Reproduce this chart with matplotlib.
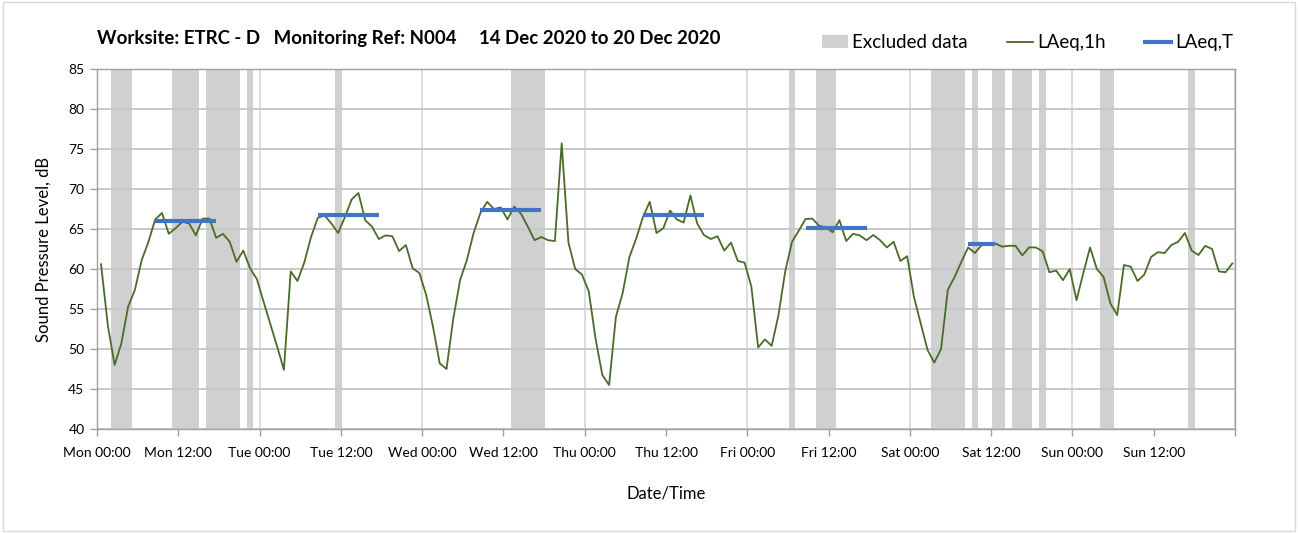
import numpy as np
import matplotlib
matplotlib.use("Agg")
from matplotlib import pyplot as plt
from matplotlib.patches import Patch, Rectangle
from matplotlib.lines import Line2D

plt.rcParams["font.family"] = ["Lato", "DejaVu Sans"]

# hourly LAeq,1h values, Mon 00:00 onwards (one per hour)
laeq_1h = [
    60.6, 53.0, 48.0, 50.7, 55.3, 57.4, 61.1, 63.4, 66.2, 67.0,
    64.4, 65.1, 65.9, 65.7, 64.2, 66.3, 66.3, 63.9, 64.4, 63.4,
    60.9, 62.3, 60.1, 58.75, 55.9, 53.1, 50.3, 47.4, 59.7, 58.5,
    60.8, 64.0, 66.4, 66.7, 65.7, 64.5, 66.5, 68.7, 69.5, 66.1,
    65.3, 63.75, 64.2, 64.1, 62.25, 63.0, 60.1, 59.5, 56.75, 52.8,
    48.2, 47.5, 53.8, 58.6, 61.1, 64.5, 67.0, 68.4, 67.5, 67.7,
    66.2, 67.8, 66.9, 65.3, 63.6, 64.0, 63.6, 63.5, 75.7, 63.3,
    60.0, 59.3, 57.2, 51.3, 46.75, 45.5, 54.0, 57.0, 61.5, 63.8,
    66.5, 68.4, 64.5, 65.1, 67.3, 66.2, 65.8, 69.2, 65.7, 64.25,
    63.75, 64.1, 62.3, 63.3, 61.0, 60.8, 57.8, 50.2, 51.2, 50.4,
    54.25, 59.7, 63.4, 64.8, 66.25, 66.3, 65.4, 65.2, 64.6, 66.1,
    63.5, 64.4, 64.2, 63.6, 64.25, 63.6, 62.7, 63.4, 61.0, 61.6,
    56.5, 53.2, 49.9, 48.3, 50.0, 57.4, 59.0, 60.9, 62.7, 62.0,
    63.0, 63.2, 63.2, 62.8, 62.9, 62.9, 61.7, 62.7, 62.7, 62.2,
    59.6, 59.8, 58.6, 60.0, 56.1, 59.5, 62.7, 60.0, 59.0, 55.7,
    54.25, 60.5, 60.3, 58.5, 59.3, 61.5, 62.1, 62.0, 63.0, 63.4,
    64.5, 62.3, 61.75, 62.9, 62.5, 59.7, 59.6, 60.7,
]

# daytime LAeq,T periods: first hour, last hour, level
laeq_t_start = [8, 32, 56, 80, 104, 128]
laeq_t_end = [17, 41, 65, 89, 113, 132]
laeq_t_level = [66.0, 66.8, 67.4, 66.7, 65.1, 63.1]

# excluded data periods (hour from, hour to)
excl_from = [2, 11, 16, 22, 35, 61, 102, 106, 123, 129, 132, 135, 139, 148, 161]
excl_to = [5, 15, 21, 23, 36, 66, 103, 109, 128, 130, 134, 138, 140, 150, 162]

days = ["Mon", "Tue", "Wed", "Thu", "Fri", "Sat", "Sun"]
offset = 0.1  # logger start offset, hours

fig = plt.figure(figsize=(12.98, 5.33), dpi=100)
ax = fig.add_axes([0.0747, 0.1951, 0.8768, 0.6754])
fig.patches.append(Rectangle((0.002, 0.003), 0.996, 0.993, transform=fig.transFigure,
                             fill=False, edgecolor="#d9d9d9", linewidth=1))

for a, b in zip(excl_from, excl_to):
    ax.axvspan(a + offset, b + offset, color="#d0d0d0", linewidth=0, zorder=0)

hours = np.arange(len(laeq_1h)) + 0.5 + offset
ax.plot(hours, laeq_1h, color="#4a6b2a", linewidth=1.3, zorder=2)

for s, e, v in zip(laeq_t_start, laeq_t_end, laeq_t_level):
    ax.plot([s + 0.5 + offset, e + 0.5 + offset], [v, v], color="#4472c4",
            linewidth=3, solid_capstyle="butt", zorder=3)

ax.set_xlim(0, 168)
ax.set_ylim(40, 85)
ax.set_yticks(np.arange(40, 86, 5))
ax.set_axisbelow(True)

ax.set_xticks(np.arange(0, 169, 24))
ax.set_xticklabels([d + " 00:00" for d in days] + [""])
ax.set_xticks(np.arange(12, 168, 24), minor=True)
ax.set_xticklabels([d + " 12:00" for d in days], minor=True)

ax.grid(axis="y", color="#c8c8c8", linewidth=1.4)
ax.grid(axis="x", which="major", color="#dcdcdc", linewidth=1.4)

ax.tick_params(axis="x", which="both", length=5, width=1, color="#a0a0a0",
               labelsize=10, pad=8)
ax.tick_params(axis="y", length=5, width=1, color="#a0a0a0", labelsize=10, pad=4)
for sp in ax.spines.values():
    sp.set_color("#a0a0a0")
    sp.set_linewidth(1)

ax.set_ylabel("Sound Pressure Level, dB", fontsize=12, labelpad=12)
ax.set_xlabel("Date/Time", fontsize=12, labelpad=19)

fig.text(0.0747, 0.928, "Worksite: ETRC - D   Monitoring Ref: N004     14 Dec 2020 to 20 Dec 2020",
         fontsize=13.4, fontweight="bold", va="center", ha="left")

handles = [Patch(facecolor="#d0d0d0", edgecolor="none"),
           Line2D([], [], color="#4a6b2a", linewidth=1.3),
           Line2D([], [], color="#4472c4", linewidth=3)]
fig.legend(handles, ["Excluded data", "LAeq,1h", "LAeq,T"], loc="center right",
           bbox_to_anchor=(0.963, 0.92), ncol=3, frameon=False, fontsize=13.5,
           handlelength=1.4, handletextpad=0.2, columnspacing=2.1)

fig.savefig("out.png", dpi=100)
